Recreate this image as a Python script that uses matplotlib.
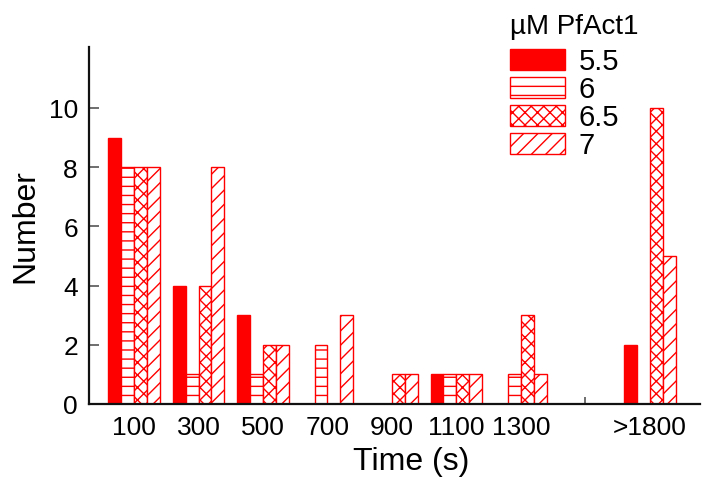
import numpy as np
import matplotlib
matplotlib.use("Agg")
import matplotlib.pyplot as plt
from matplotlib.backend_bases import GraphicsContextBase
from matplotlib.path import Path

# ---- data ----
categories = ["100", "300", "500", "700", "900", "1100", "1300", ">1800"]
cat_pos = [0, 1, 2, 3, 4, 5, 6, 8]          # gap before ">1800"
series_labels = ["5.5", "6", "6.5", "7"]
conc_5_5 = [9, 4, 3, 0, 0, 1, 0, 2]
conc_6 = [8, 1, 1, 2, 0, 1, 1, 0]
conc_6_5 = [8, 4, 2, 0, 1, 1, 3, 10]
conc_7 = [8, 8, 2, 3, 1, 1, 1, 5]
series_values = [conc_5_5, conc_6, conc_6_5, conc_7]
hatches = [None, "-", "x", "/"]

# hatch density tweak
_dens = {"-": 11, "x": 16, "/": 14}
def _get_hatch_path(self, density=6.0):
    h = self.get_hatch()
    if h is None:
        return None
    return Path.hatch(h, _dens.get(h, density))
GraphicsContextBase.get_hatch_path = _get_hatch_path

plt.rcParams["font.family"] = ["Liberation Sans", "DejaVu Sans"]
plt.rcParams["hatch.linewidth"] = 1.0
plt.rcParams["hatch.color"] = "#ff0000"

W, H = 706, 481
fig = plt.figure(figsize=(W / 100, H / 100), dpi=100)
ax = fig.add_axes([89 / W, (H - 405) / H, (700 - 89) / W, (405 - 48) / H])

red = "#ff0000"
width = 0.2
offsets = [-0.3, -0.1, 0.1, 0.3]
x = np.array(cat_pos, dtype=float)
for vals, lab, hat, off in zip(series_values, series_labels, hatches, offsets):
    if hat is None:
        ax.bar(x + off, vals, width, color=red, edgecolor=red, linewidth=1.0, label=lab)
    else:
        ax.bar(x + off, vals, width, facecolor="white", edgecolor=red, hatch=hat,
               linewidth=1.0, label=lab)

ax.set_xlim(-0.70, 8.78)
ax.set_ylim(0, 12.06)

for s in ["top", "right"]:
    ax.spines[s].set_visible(False)
for s in ["left", "bottom"]:
    ax.spines[s].set_linewidth(1.6)
    ax.spines[s].set_color("#111111")

ax.set_xticks(x)
ax.set_xticklabels(categories)
ax.set_xticks([7], minor=True)
ax.tick_params(axis="x", which="major", length=0, pad=8, labelsize=19)
ax.tick_params(axis="x", which="minor", direction="in", length=5, width=1.2, color="#555555")
ax.set_yticks([0, 2, 4, 6, 8, 10])
ax.tick_params(axis="y", direction="in", length=7, width=1.2, color="#555555", pad=8, labelsize=19)

ax.set_xlabel("Time (s)", fontsize=23, labelpad=5, x=0.527)
ax.set_ylabel("Number", fontsize=23, labelpad=6)

leg = ax.legend(title="µM PfAct1", loc="upper left",
                bbox_to_anchor=(510 / W, 1 - 14 / H), bbox_transform=fig.transFigure,
                frameon=False, fontsize=21, title_fontsize=20,
                handlelength=1.9, handleheight=0.72, handletextpad=0.45,
                labelspacing=0.0, borderpad=0, borderaxespad=0, alignment="left")
leg._legend_box.sep = 6

fig.savefig("out.png", dpi=100)
